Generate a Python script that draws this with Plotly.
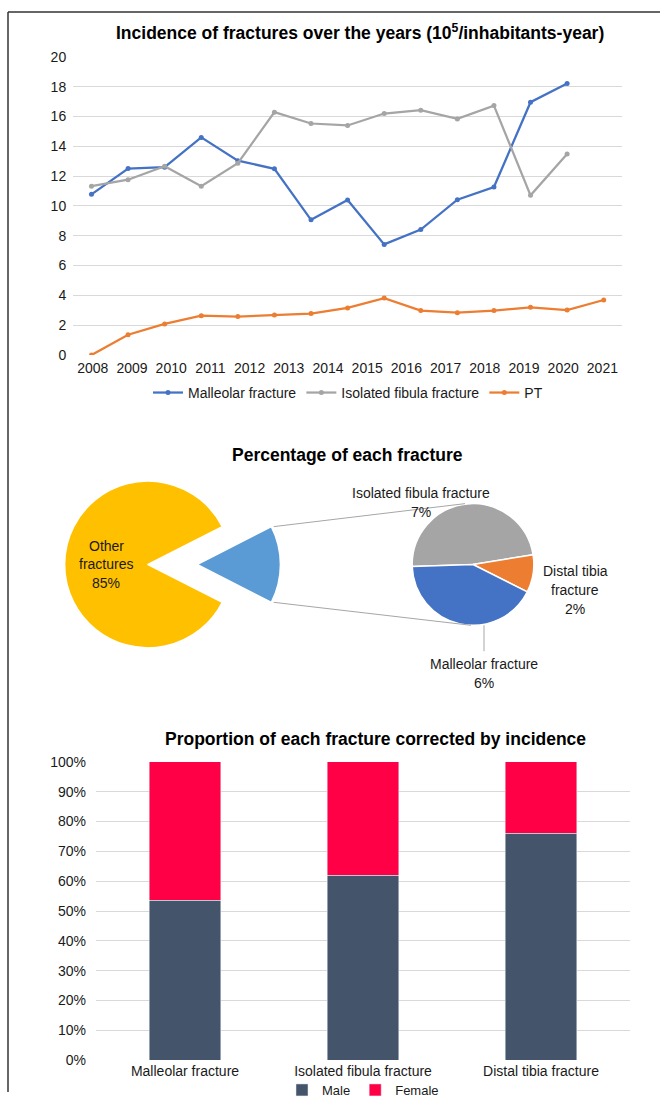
import math
import plotly.graph_objects as go

# ---------------- data ----------------
years = [str(y) for y in range(2008, 2022)]
malleolar = [10.78, 12.51, 12.6, 14.6, 13.04, 12.49, 9.07, 10.4, 7.42, 8.42, 10.42, 11.27, 16.96, 18.22]
isolated_fibula = [11.33, 11.76, 12.67, 11.33, 12.87, 16.29, 15.53, 15.4, 16.2, 16.42, 15.84, 16.73, 10.71, 13.49]
pt = [0.0, 1.36, 2.09, 2.64, 2.58, 2.69, 2.78, 3.16, 3.82, 2.98, 2.84, 2.98, 3.2, 3.02, 3.69]
line_y_ticks = list(range(0, 21, 2))

other_label = "Other<br>fractures"
other_value = 85.0
sub_labels = ["Isolated fibula fracture", "Distal tibia<br>fracture", "Malleolar fracture"]
sub_values = [7.2, 1.5, 6.3]

bar_categories = ["Malleolar fracture", "Isolated fibula fracture", "Distal tibia fracture"]
male_share = [0.536, 0.62, 0.761]
female_share = [0.464, 0.38, 0.239]

# ---------------- styling helpers ----------------
W, H = 660, 1105
FONT = "Liberation Sans, Arial, sans-serif"
GRID = "#D9D9D9"
TXT = "#1a1a1a"
LBL = 14
TTL = 17.5

# the photographed page is drawn slightly compressed vertically; map target picture y to page y
V_OFF, V_SCALE = 8.0, 0.9837


def page_y(y):
    return (y - V_OFF) / V_SCALE


def px(x):
    return x / W


def pyp(y_page):
    return 1 - y_page / H


def py(y):
    return pyp(page_y(y))


fig = go.Figure()

# ---------------- line chart ----------------
n_pts = len(pt)
line_specs = [
    ("Malleolar fracture", malleolar, "#4472C4"),
    ("Isolated fibula fracture", isolated_fibula, "#A5A5A5"),
    ("PT", pt, "#ED7D31"),
]
for name, vals, col in line_specs:
    fig.add_trace(go.Scatter(
        x=list(range(len(vals))), y=vals, name=name, mode="lines+markers",
        line=dict(color=col, width=2.25), marker=dict(color=col, size=5),
        xaxis="x", yaxis="y", legend="legend",
    ))

step = n_pts / len(years)
tick_pos = [-0.5 + (i + 0.5) * step for i in range(len(years))]

# ---------------- pie of pie ----------------
total = other_value + sum(sub_values)
main_slice = sum(sub_values)
cx1, cy1, r1, pull = 148, 566, 85, 50 / 85
cy1p = page_y(cy1)
R1 = r1 * (1 + pull)
wedge_deg = 360 * main_slice / total
rot1 = 90 - wedge_deg / 2
fig.add_trace(go.Pie(
    values=[main_slice, other_value], labels=["Selected", "Other fractures"],
    sort=False, direction="clockwise", rotation=rot1,
    pull=[pull, 0], marker=dict(colors=["#5B9BD5", "#FFC000"], line=dict(color="white", width=1.5)),
    textinfo="none", hoverinfo="label+percent", showlegend=False,
    domain=dict(x=[px(cx1 - R1), px(cx1 + R1)], y=[pyp(cy1p + R1), pyp(cy1p - R1)]),
))

cx2, cy2, r2 = 473, 566, 62
cy2p = page_y(cy2)
fig.add_trace(go.Pie(
    values=sub_values, labels=[s.replace("<br>", " ") for s in sub_labels],
    sort=False, direction="clockwise", rotation=268,
    marker=dict(colors=["#A5A5A5", "#ED7D31", "#4472C4"], line=dict(color="white", width=1.5)),
    textinfo="none", hoverinfo="label", showlegend=False,
    domain=dict(x=[px(cx2 - r2), px(cx2 + r2)], y=[pyp(cy2p + r2), pyp(cy2p - r2)]),
))

# ---------------- bar chart ----------------
fig.add_trace(go.Bar(x=bar_categories, y=male_share, name="Male", marker_color="#44546A",
                     xaxis="x2", yaxis="y2", legend="legend2"))
fig.add_trace(go.Bar(x=bar_categories, y=female_share, name="Female", marker_color="#FF0046",
                     xaxis="x2", yaxis="y2", legend="legend2"))

# ---------------- annotations ----------------
annotations = []


def title(text, x, y):
    annotations.append(dict(text=f"<b>{text}</b>", x=px(x), y=py(y), xref="paper", yref="paper",
                            showarrow=False, xanchor="center", yanchor="middle",
                            font=dict(family=FONT, size=TTL, color="black")))


title("Incidence of fractures over the years (10<sup>5</sup>/inhabitants-year)", 360, 32)
title("Percentage of each fracture", 347, 456)
title("Proportion of each fracture corrected by incidence", 375, 741)


def multiline(lines, x, y0, spacing=19):
    for k, ln in enumerate(lines):
        annotations.append(dict(text=ln, x=px(x), y=py(y0 + k * spacing), xref="paper", yref="paper",
                                showarrow=False, xanchor="center", yanchor="middle",
                                font=dict(family=FONT, size=LBL, color=TXT)))


def pct(v):
    return f"{round(100 * v / total)}%"


multiline(other_label.split("<br>") + [pct(other_value)], 106, 547)
label_pos = [(421, 494), (575, 573), (484, 666)]
for lab, val, (lx, ly) in zip(sub_labels, sub_values, label_pos):
    multiline(lab.split("<br>") + [pct(val)], lx, ly)

# ---------------- shapes ----------------
shapes = []
a = math.radians(rot1)
vx = cx1 + pull * r1
top_pt = (vx + r1 * math.sin(a), cy1p - r1 * math.cos(a))
bot_pt = (vx + r1 * math.sin(a), cy1p + r1 * math.cos(a))
for (x0, y0), (x1, y1) in [(top_pt, (cx2 - 8, cy2p - r2)), (bot_pt, (cx2 - 2, cy2p + r2))]:
    shapes.append(dict(type="line", xref="paper", yref="paper", x0=px(x0), y0=pyp(y0), x1=px(x1), y1=pyp(y1),
                       line=dict(color="#A6A6A6", width=1)))
shapes.append(dict(type="line", xref="paper", yref="paper", x0=px(484), y0=pyp(cy2p + r2), x1=px(484),
                   y1=py(653), line=dict(color="#A6A6A6", width=1)))
# frame (top and left edges)
shapes.append(dict(type="line", xref="paper", yref="paper", x0=px(8), y0=py(12), x1=1, y1=py(12),
                   line=dict(color="#333333", width=1.5)))
shapes.append(dict(type="line", xref="paper", yref="paper", x0=px(8), y0=py(12), x1=px(8), y1=0,
                   line=dict(color="#333333", width=1.5)))

axis_font = dict(family=FONT, size=LBL, color=TXT)

fig.update_layout(
    width=W, height=H, margin=dict(l=0, r=0, t=0, b=0),
    paper_bgcolor="white", plot_bgcolor="white",
    font=dict(family=FONT, size=LBL, color=TXT),
    barmode="stack", bargap=0.6,
    xaxis=dict(domain=[px(73.2), px(622)], range=[-0.5, n_pts - 0.5], tickvals=tick_pos, ticktext=years,
               tickangle=0, showgrid=False, zeroline=False, showline=False, ticks="", tickfont=axis_font,
               ticklabelstandoff=3, fixedrange=True),
    yaxis=dict(domain=[py(356), py(57)], range=[0, 20], tickvals=line_y_ticks, showgrid=True,
               gridcolor=GRID, gridwidth=1, zeroline=False, showline=False, ticks="",
               tickfont=axis_font, ticklabelstandoff=6, fixedrange=True),
    xaxis2=dict(domain=[px(96), px(630)], anchor="y2", showgrid=False, zeroline=False, showline=False,
                tickangle=0, ticks="", tickfont=axis_font, ticklabelstandoff=1),
    yaxis2=dict(domain=[py(1063), py(764)], anchor="x2", range=[0, 1], dtick=0.1, tickformat=".0%",
                showgrid=True, gridcolor=GRID, gridwidth=1, zeroline=False, showline=False, ticks="",
                tickfont=axis_font, ticklabelstandoff=9),
    legend=dict(orientation="h", x=px(348), xanchor="center", y=py(394), yanchor="middle",
                font=axis_font, bgcolor="rgba(0,0,0,0)"),
    legend2=dict(orientation="h", x=px(363), xanchor="center", y=pyp(1103), yanchor="middle",
                 font=dict(family=FONT, size=13, color=TXT), bgcolor="rgba(0,0,0,0)",
                 traceorder="normal"),
    annotations=annotations, shapes=shapes, showlegend=True,
)

post = (
    "var gd=document.getElementById('{plot_id}');"
    "document.documentElement.style.margin='0';document.body.style.margin='0';"
    "document.documentElement.style.overflow='hidden';document.body.style.overflow='hidden';"
    "gd.style.position='absolute';gd.style.top='0px';gd.style.left='0px';"
)
fig.write_html("out.html", config={"displayModeBar": False}, post_script=post)
